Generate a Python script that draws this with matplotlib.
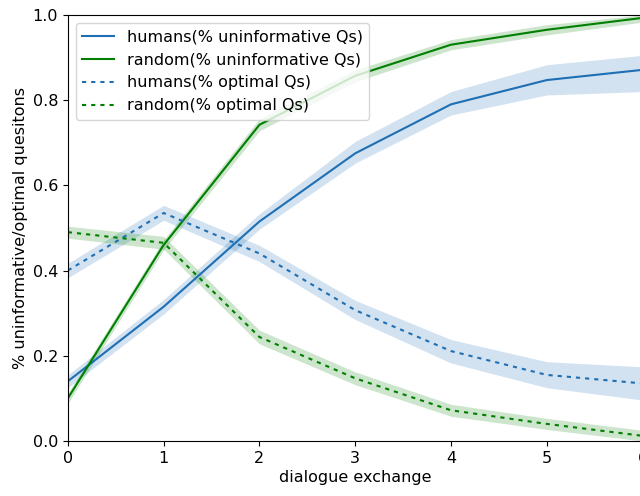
import matplotlib
matplotlib.use("Agg")
import matplotlib.pyplot as plt
import numpy as np

x = [0, 1, 2, 3, 4, 5, 6]

humans_uninf = [0.14, 0.315, 0.515, 0.675, 0.79, 0.847, 0.871]
humans_uninf_lo = [0.125, 0.298, 0.497, 0.652, 0.765, 0.812, 0.82]
humans_uninf_hi = [0.155, 0.332, 0.533, 0.703, 0.82, 0.883, 0.905]

random_uninf = [0.10, 0.46, 0.742, 0.857, 0.93, 0.965, 0.993]
random_uninf_lo = [0.088, 0.448, 0.728, 0.843, 0.918, 0.953, 0.983]
random_uninf_hi = [0.112, 0.472, 0.756, 0.871, 0.942, 0.977, 1.0]

humans_opt = [0.40, 0.535, 0.44, 0.307, 0.211, 0.155, 0.135]
humans_opt_lo = [0.383, 0.518, 0.421, 0.285, 0.183, 0.125, 0.096]
humans_opt_hi = [0.417, 0.553, 0.459, 0.33, 0.238, 0.186, 0.174]

random_opt = [0.49, 0.465, 0.244, 0.147, 0.072, 0.04, 0.012]
random_opt_lo = [0.476, 0.45, 0.228, 0.132, 0.058, 0.027, 0.0]
random_opt_hi = [0.504, 0.48, 0.26, 0.162, 0.086, 0.053, 0.025]

blue = "#1f6fb4"
green = "#007f00"
dash = (0, (2, 2.4))
fs = 11.5

fig = plt.figure(figsize=(6.4, 4.96), dpi=100)
ax = fig.add_axes([0.106, 0.111, 0.898, 0.859])

ax.fill_between(x, humans_uninf_lo, humans_uninf_hi, color=blue, alpha=0.2, lw=0)
ax.fill_between(x, random_uninf_lo, random_uninf_hi, color=green, alpha=0.2, lw=0)
ax.fill_between(x, humans_opt_lo, humans_opt_hi, color=blue, alpha=0.2, lw=0)
ax.fill_between(x, random_opt_lo, random_opt_hi, color=green, alpha=0.2, lw=0)

ax.plot(x, humans_uninf, color=blue, lw=1.5, label="humans(% uninformative Qs)")
ax.plot(x, random_uninf, color=green, lw=1.5, label="random(% uninformative Qs)")
ax.plot(x, humans_opt, color=blue, lw=1.5, linestyle=dash, label="humans(% optimal Qs)")
ax.plot(x, random_opt, color=green, lw=1.5, linestyle=dash, label="random(% optimal Qs)")

ax.set_xlim(0, 6)
ax.set_ylim(0, 1.0)
ax.set_xticks([0, 1, 2, 3, 4, 5, 6])
ax.set_yticks([0.0, 0.2, 0.4, 0.6, 0.8, 1.0])
ax.set_xlabel("dialogue exchange", fontsize=fs, labelpad=3)
ax.set_ylabel("% uninformative/optimal quesitons", fontsize=fs, labelpad=3)
ax.tick_params(labelsize=fs)
ax.legend(loc="upper left", fontsize=fs)

fig.savefig("out.png", dpi=100)
